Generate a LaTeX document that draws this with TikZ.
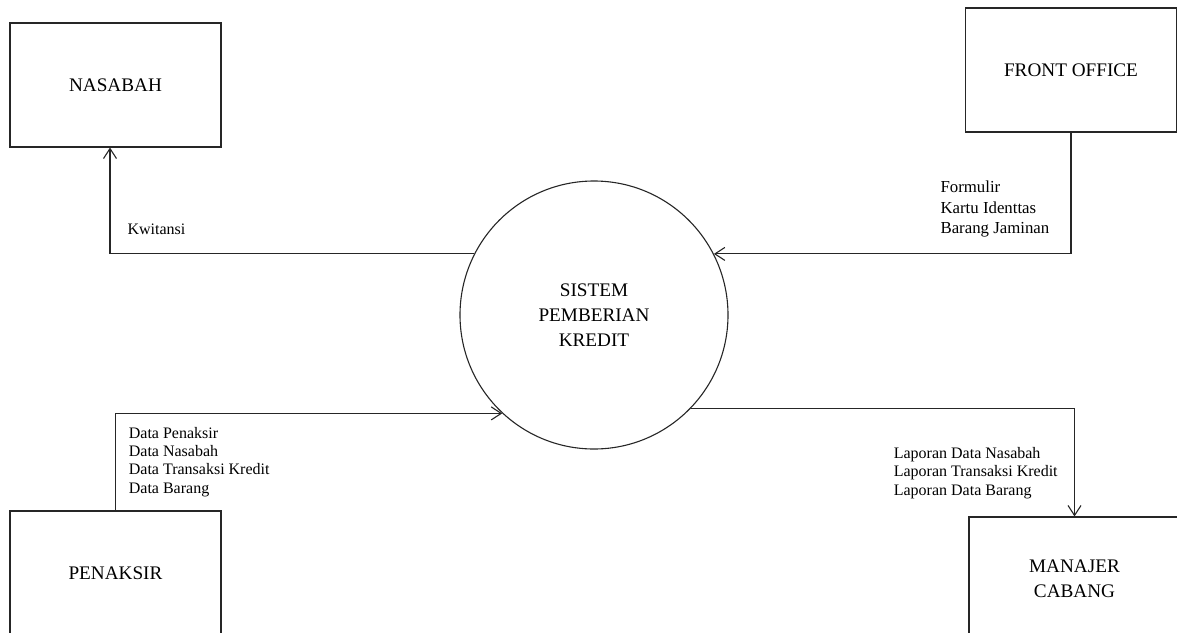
\documentclass[tikz,border=0pt]{standalone}
\usepackage{fontspec}
\setmainfont{Liberation Serif}
\usetikzlibrary{arrows.meta}

\begin{document}
\begin{tikzpicture}[x=0.5pt,y=-0.5pt,->,>={Straight Barb[length=5pt,width=6.5pt]},
 line width=0.55pt,draw=black!85]
 \tikzstyle{entity}=[draw,rectangle,minimum width=105.5pt,minimum height=62pt,
 align=center,font=\fontsize{9.6}{12.5}\selectfont]
 \tikzstyle{process}=[draw,circle,minimum size=134pt,inner sep=0pt,
 align=center,font=\fontsize{9.6}{12.5}\selectfont]
 \tikzstyle{flowlabel}=[anchor=north west,inner sep=0pt,align=left,
 font=\fontsize{8}{9.2}\selectfont]
 \useasboundingbox (0,0) rectangle (1177,632);
 \node[process] (S) at (594,315) {SISTEM\\PEMBERIAN\\KREDIT};
 \node[entity]  (N) at (115.5,85)    {NASABAH};
 \node[entity]  (F) at (1071,70)     {FRONT OFFICE};
 \node[entity]  (P) at (115.5,573)   {PENAKSIR};
 \node[entity]  (M) at (1074.5,579)  {MANAJER\\CABANG};

 \node[flowlabel] (kw) at (127,223) {Kwitansi};
 \node[flowlabel,font=\fontsize{8.4}{10.4}\selectfont] (fl) at (940,180)
 {Formulir\\Kartu Identtas\\Barang Jaminan};
 \node[flowlabel] (pl) at (128.3,426.5)
 {Data Penaksir\\Data Nasabah\\Data Transaksi Kredit\\Data Barang};
 \node[flowlabel,font=\fontsize{8}{9.4}\selectfont] (ml) at (893.3,446.5)
 {Laporan Data Nasabah\\Laporan Transaksi Kredit\\Laporan Data Barang};

 \draw (S.153) -| ([xshift=-2.75pt]N.south);
 \draw (F.south) |- (S.27);
 \draw (P.north) |- (S.227);
 \draw (S.316) -| (M.north);
\end{tikzpicture}
\end{document}
